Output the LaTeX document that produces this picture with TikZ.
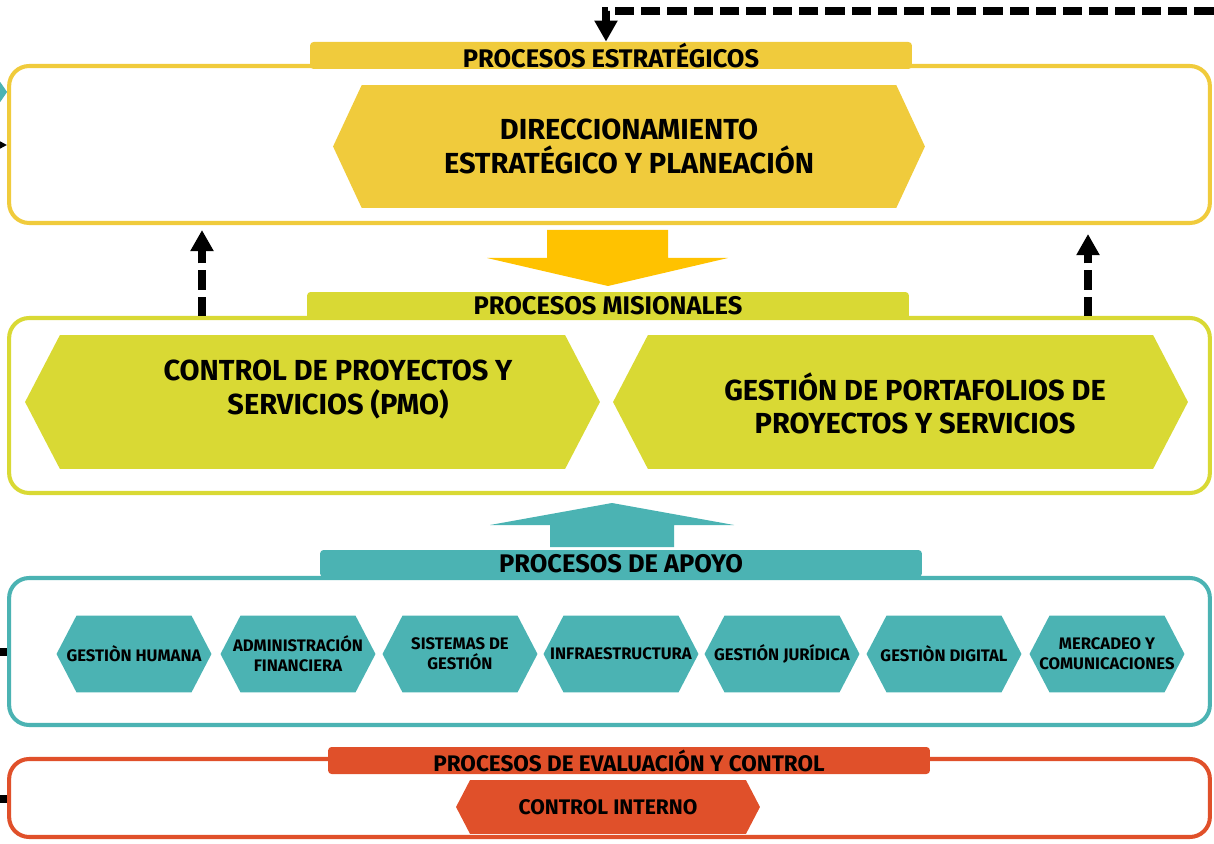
\documentclass[tikz,border=0pt]{standalone}
\usepackage{fontspec}
\setmainfont{Fira Sans}
\usetikzlibrary{shapes.symbols,arrows.meta,calc}

\definecolor{estrat}{HTML}{F0CB3C}
\definecolor{flecha}{HTML}{FFC200}
\definecolor{mision}{HTML}{D9D934}
\definecolor{apoyo}{HTML}{4BB3B3}
\definecolor{evalua}{HTML}{E0502A}

\begin{document}
\begin{tikzpicture}[x=0.02cm, y=-0.02cm, font=\bfseries,
    procbox/.style={draw=#1, line width=2.3pt, rounded corners=0.4cm, minimum width=24.02cm, inner sep=0pt},
    procbar/.style={fill=#1, rounded corners=2pt, minimum width=12.04cm, minimum height=0.54cm, inner sep=0pt,
        font=\bfseries\fontsize{14.5}{17}\selectfont},
    hexa/.style={signal, signal to=west and east, signal pointer angle=125, fill=#1, inner sep=0pt},
    bigtxt/.style={align=center, font=\bfseries\fontsize{16.5}{19}\selectfont},
    smalltxt/.style={align=center, inner xsep=-0.7cm, font=\bfseries\fontsize{9.5}{11.5}\selectfont},
    dasharrow/.style={line width=4.2pt, dash pattern=on 11pt off 4pt, -{Triangle[width=12.5pt, length=12pt]}},
    stub/.style={line width=4.2pt}]
    \useasboundingbox (0,0) rectangle (1214,844);

    % Process boxes
    \node[procbox=estrat, minimum height=3.14cm] (stratbox) at (609.5,144.5) {};
    \node[procbox=mision, minimum height=3.5cm] (misbox) at (609.5,405.5) {};
    \node[procbox=apoyo, minimum height=2.94cm] (apoyobox) at (609.5,651.5) {};
    \node[procbox=evalua, minimum height=1.56cm] (evalbox) at (609.5,798) {};

    % Title bars
    \node[procbar=estrat] (stratbar) at (611,55.5) {PROCESOS ESTRATÉGICOS};
    \node[procbar=mision] (misbar) at (608,305.5) {PROCESOS MISIONALES};
    \node[procbar=apoyo] (apoyobar) at (621,563.5) {PROCESOS DE APOYO};
    \node[procbar=evalua, font=\bfseries\fontsize{12.8}{15}\selectfont] (evalbar) at (629,760.5) {PROCESOS DE EVALUACIÓN Y CONTROL};

    % Strategic
    \node[hexa=estrat, signal pointer angle=130, minimum width=11.84cm, minimum height=2.46cm, bigtxt] (direcc) at (629,146.5)
        {DIRECCIONAMIENTO\\ESTRATÉGICO Y PLANEACIÓN};

    % Block arrows
    \fill[flecha] (547,230) -- (668,230) -- (668,258) -- (728,258) -- (608,286) -- (487,258) -- (547,258) -- cycle;
    \fill[apoyo] (550,547) -- (674,547) -- (674,525) -- (734,525) -- (612,503) -- (490,525) -- (550,525) -- cycle;

    % Missional
    \node[hexa=mision, minimum width=11.5cm, minimum height=2.68cm] (pmo) at (312.5,402) {};
    \node[bigtxt] (pmotxt) at (338,389.5) {CONTROL DE PROYECTOS Y\\SERVICIOS (PMO)};
    \node[hexa=mision, minimum width=11.5cm, minimum height=2.68cm] (portaf) at (900.5,402) {};
    \node[bigtxt] (portaftxt) at (915,403.5) {GESTIÓN DE PORTAFOLIOS DE\\PROYECTOS Y SERVICIOS};

    % Support
    \foreach \cx/\nm/\txt in {134/humana/{GESTIÒN HUMANA}, 298/financ/{ADMINISTRACIÓN\\FINANCIERA},
        460/sistemas/{SISTEMAS DE\\GESTIÓN}, 621/infra/{INFRAESTRUCTURA}, 782/juridica/{GESTIÓN JURÍDICA},
        944/digital/{GESTIÒN DIGITAL}, 1107/mercadeo/{MERCADEO Y\\COMUNICACIONES}}
        \node[hexa=apoyo, minimum width=3.1cm, minimum height=1.54cm, smalltxt] (\nm) at (\cx,654) {\txt};

    % Evaluation
    \node[hexa=evalua, minimum width=6.08cm, minimum height=1.08cm, font=\bfseries\fontsize{12}{14}\selectfont] (interno) at (608,807) {CONTROL INTERNO};

    % Feedback connectors
    \coordinate (fbtop) at (1240,11);
    \coordinate (upL) at (202,0);
    \coordinate (upR) at (1088,0);
    \draw[dasharrow] (fbtop) -| ($(stratbar.north)+(-5,0)$);
    \draw[dasharrow, shorten >=0.1cm] (misbox.north -| upL) -- (stratbox.south -| upL);
    \draw[dasharrow, shorten >=0.18cm] (misbox.north -| upR) -- (stratbox.south -| upR);

    % Left edge connectors
    \coordinate (inA) at (-30,92);
    \coordinate (inB) at (-30,145);
    \coordinate (inC) at (-30,652);
    \coordinate (inD) at (-30,799);
    \draw[apoyo, line width=4pt, -{Triangle[width=0.4cm, length=0.14cm]}] (inA) -- (stratbox.west |- inA);
    \draw[line width=4pt, -{Triangle[width=0.3cm, length=0.3cm]}] (inB) -- (stratbox.west |- inB);
    \draw[stub] (inC) -- (apoyobox.west |- inC);
    \draw[stub] (inD) -- (evalbox.west |- inD);
\end{tikzpicture}
\end{document}
